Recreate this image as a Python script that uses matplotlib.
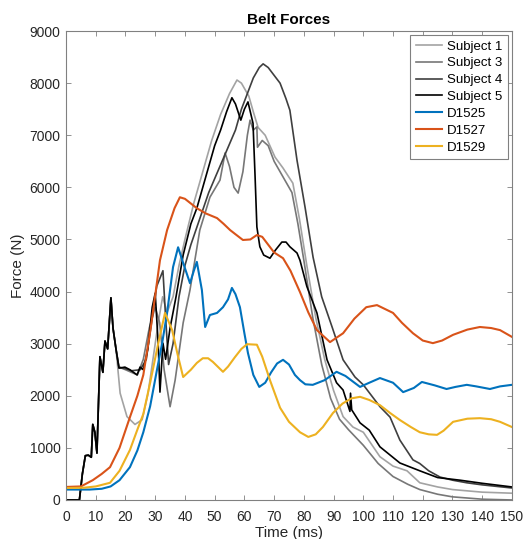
import matplotlib
matplotlib.use("Agg")
import matplotlib.pyplot as plt

plt.rcParams["font.family"] = ["Liberation Sans", "DejaVu Sans"]

# ---- belt force traces (time in ms, force in N) ----
# common onset shared by the four subjects
onset_t = [0, 4.5, 5.5, 6.5, 7.5, 8.5, 9.0, 9.7, 10.4, 11.4, 12.4, 13.1, 14.0, 15.1, 15.8, 16.8]
onset_f = [0, 0, 500, 850, 860, 820, 1450, 1300, 900, 2750, 2450, 3050, 2900, 3880, 3300, 2900]

s1_t = onset_t + [18.2, 20.5, 23.2, 25.6, 27.6, 29.5, 31.0, 32.5, 34.0, 36.0, 38.0, 40.0, 43.0,
                  46.0, 49.0, 52.0, 55.0, 57.5, 59.0, 61.5, 63.0, 64.6, 67.0, 70.3, 73.0, 76.3,
                  78.5, 81.0, 84.0, 87.0, 90.0, 93.2, 96.5, 100.0, 105.6, 110.0, 114.7, 119.0,
                  125.0, 130.0, 140.0, 150.0]
s1_f = onset_f + [2050, 1600, 1450, 1540, 2050, 2800, 3400, 3900, 3600, 3900, 4500, 5000, 5700,
                  6300, 6900, 7400, 7800, 8060, 8000, 7750, 7450, 7150, 7000, 6580, 6370, 6080,
                  5400, 4500, 3500, 2700, 2100, 1600, 1400, 1300, 830, 650, 560, 330,
                  250, 200, 150, 130]

s3_t = onset_t + [17.8, 20.0, 22.0, 24.0, 26.0, 28.0, 30.0, 31.5, 33.0, 35.0, 36.7, 39.4, 41.7,
                  45.0, 48.4, 51.8, 53.5, 55.0, 56.5, 57.9, 59.5, 61.0, 61.9, 63.0, 64.2, 64.4,
                  66.0, 68.0, 70.0, 73.0, 76.0, 78.0, 80.0, 83.0, 86.0, 89.0, 92.0, 95.0, 100.0,
                  105.0, 110.0, 115.0, 119.0, 125.0, 130.0, 140.0, 150.0]
s3_f = onset_f + [2550, 2500, 2450, 2400, 2700, 3300, 3700, 3400, 2500, 1790, 2300, 3400, 4030,
                  5180, 5810, 6140, 6660, 6400, 6000, 5890, 6300, 7000, 7290, 7100, 7160, 6770,
                  6900, 6800, 6500, 6200, 5900, 5300, 4600, 3500, 2600, 1950, 1550, 1350, 1050,
                  700, 450, 300, 200, 110, 60, 15, 0]

s4_t = onset_t + [17.8, 20.0, 22.0, 25.0, 27.0, 29.0, 30.5, 32.6, 33.5, 34.5, 36.0, 38.0, 40.0,
                  42.0, 45.0, 48.0, 51.0, 54.0, 57.0, 59.0, 61.0, 63.0, 65.0, 66.3, 68.0, 70.0,
                  72.0, 74.0, 75.3, 77.7, 80.4, 83.1, 86.0, 89.5, 93.2, 97.2, 100.0, 105.6, 109.0,
                  112.3, 116.7, 119.0, 122.0, 125.8, 130.0, 134.8, 140.0, 145.0, 150.0]
s4_f = onset_f + [2550, 2520, 2480, 2500, 2700, 3500, 4100, 4400, 3500, 2600, 3000, 3900, 4500,
                  4900, 5400, 5900, 6300, 6700, 7100, 7500, 7800, 8100, 8300, 8370, 8300, 8150,
                  8000, 7700, 7480, 6520, 5620, 4660, 3900, 3320, 2690, 2360, 2210, 1790, 1590,
                  1150, 770, 700, 560, 440, 380, 330, 290, 260, 230]

s5_t = onset_t + [17.8, 19.8, 21.5, 23.9, 24.9, 26.0, 27.5, 29.0, 30.0, 31.0, 31.6, 32.6, 33.5,
                  35.0, 37.0, 39.4, 42.0, 44.0, 46.0, 48.0, 50.0, 52.0, 54.0, 55.8, 57.0, 58.8,
                  60.0, 61.2, 62.2, 62.9, 63.6, 64.2, 65.2, 66.5, 68.6, 70.5, 72.6, 74.0, 75.3,
                  77.7, 78.7, 81.0, 84.4, 87.8, 91.0, 93.2, 95.5, 95.7, 96.1, 98.9, 102.0, 105.6,
                  112.3, 119.0, 125.0, 132.5, 140.0, 150.0]
s5_f = onset_f + [2530, 2550, 2500, 2400, 2550, 2500, 2900, 3700, 3970, 3000, 2070, 3010, 2700,
                  3300, 3900, 4700, 5300, 5600, 6000, 6400, 6800, 7100, 7450, 7720, 7600, 7290,
                  7500, 7640, 7400, 7230, 6200, 5240, 4860, 4700, 4640, 4800, 4950, 4950, 4860,
                  4740, 4600, 4100, 3590, 2690, 2250, 2110, 1700, 2050, 1730, 1480, 1340, 1020,
                  710, 560, 430, 380, 320, 250]

d1525_t = [0, 8, 12, 15, 18, 21.5, 24, 26, 28.3, 30.6, 32.3, 34, 36, 37.7, 39.4, 41.7, 43, 44,
           45.7, 46.8, 48.4, 50.8, 52.8, 54.5, 55.8, 57, 58.5, 60, 61.2, 63, 65, 67, 69, 71, 73,
           75, 77, 78.7, 80.5, 83, 87, 91, 94, 98.9, 102, 105.6, 110, 113.4, 117, 119.7, 124,
           128, 131, 134.8, 138, 142.6, 146, 150]
d1525_f = [200, 200, 215, 260, 380, 630, 950, 1300, 1800, 2500, 3000, 3590, 4470, 4850, 4550,
           4160, 4400, 4570, 4030, 3320, 3550, 3590, 3700, 3850, 4070, 3950, 3700, 3200, 2820,
           2400, 2170, 2250, 2450, 2620, 2690, 2600, 2400, 2300, 2220, 2210, 2300, 2460, 2380,
           2170, 2250, 2340, 2250, 2070, 2150, 2265, 2200, 2130, 2170, 2210, 2180, 2130, 2180,
           2210]

d1527_t = [0, 5, 9, 12, 14.8, 18, 21.5, 24, 26, 28.5, 31.6, 34, 36.5, 38.3, 40, 44, 47, 50.8,
           53, 55.2, 57, 59.5, 62, 64.2, 66, 68, 70, 73, 75.5, 78.7, 81.5, 84.4, 88.8, 93.2, 97,
           101, 104.6, 110, 113, 116.7, 120, 123.4, 126.5, 130.2, 135, 139.2, 143, 146, 150]
d1527_f = [250, 260, 380, 500, 630, 1000, 1590, 2000, 2400, 3300, 4600, 5180, 5600, 5810, 5780,
           5600, 5500, 5410, 5300, 5180, 5100, 4990, 5000, 5085, 5050, 4900, 4750, 4640, 4400,
           3990, 3600, 3260, 3030, 3200, 3480, 3700, 3740, 3590, 3400, 3200, 3060, 3010, 3060,
           3170, 3270, 3320, 3300, 3260, 3130]

d1529_t = [0, 6, 10, 14.8, 18, 21.5, 24, 26, 28.3, 31, 33.3, 35.7, 37.5, 39.4, 42, 44, 46, 47.8,
           49.4, 52.8, 54.5, 56.8, 59, 60.9, 64.2, 66, 68.6, 72, 75, 78.7, 81.5, 84, 86.4, 89.8,
           93, 96, 98.9, 102, 105.6, 109, 112.3, 116, 119, 122, 124.8, 127, 130.2, 135, 139.2,
           143, 146, 150]
d1529_f = [230, 235, 260, 330, 560, 960, 1350, 1650, 2250, 3000, 3590, 3260, 2800, 2360, 2500,
           2630, 2720, 2720, 2650, 2460, 2560, 2740, 2900, 2990, 2980, 2750, 2300, 1770, 1500,
           1300, 1210, 1260, 1400, 1670, 1850, 1950, 1980, 1920, 1820, 1670, 1535, 1400, 1300,
           1260, 1250, 1330, 1500, 1560, 1570, 1550, 1500, 1400]

series = [
    ("Subject 1", s1_t, s1_f, "#a3a3a3", 1.2),
    ("Subject 3", s3_t, s3_f, "#777777", 1.2),
    ("Subject 4", s4_t, s4_f, "#3f3f3f", 1.2),
    ("Subject 5", s5_t, s5_f, "#000000", 1.2),
    ("D1525", d1525_t, d1525_f, "#0072BD", 1.5),
    ("D1527", d1527_t, d1527_f, "#D95319", 1.5),
    ("D1529", d1529_t, d1529_f, "#EDB120", 1.5),
]

x_ticks = list(range(0, 151, 10))
y_ticks = list(range(0, 9001, 1000))

fig = plt.figure(figsize=(5.24, 5.39), dpi=100)
ax = fig.add_axes([0.126, 0.0724, 0.851, 0.870])

for name, t, f, color, lw in series:
    ax.plot(t, f, color=color, lw=lw, label=name, solid_joinstyle="round")

ax.set_xlim(0, 150)
ax.set_ylim(0, 9000)
ax.set_xticks(x_ticks)
ax.set_yticks(y_ticks)

axis_grey = "#808080"
text_col = "#262626"
for sp in ax.spines.values():
    sp.set_color(axis_grey)
    sp.set_linewidth(0.8)
ax.tick_params(direction="in", length=3.5, width=0.6, color=axis_grey,
               top=True, right=True, labelsize=10, labelcolor=text_col)
ax.tick_params(axis="x", pad=7)
ax.tick_params(axis="y", pad=4)

ax.set_title("Belt Forces", fontsize=11, fontweight="bold", color="black", pad=5)
ax.set_xlabel("Time (ms)", fontsize=11, color=text_col, labelpad=2)
ax.set_ylabel("Force (N)", fontsize=11, color=text_col, labelpad=3)

leg = ax.legend(loc="upper right", fontsize=9.5, frameon=True, fancybox=False,
                edgecolor=axis_grey, framealpha=1, handlelength=2.0, handletextpad=0.4,
                borderpad=0.4, labelspacing=0.35, borderaxespad=0.3)
leg.get_frame().set_linewidth(0.8)

fig.savefig("out.png", dpi=100)
